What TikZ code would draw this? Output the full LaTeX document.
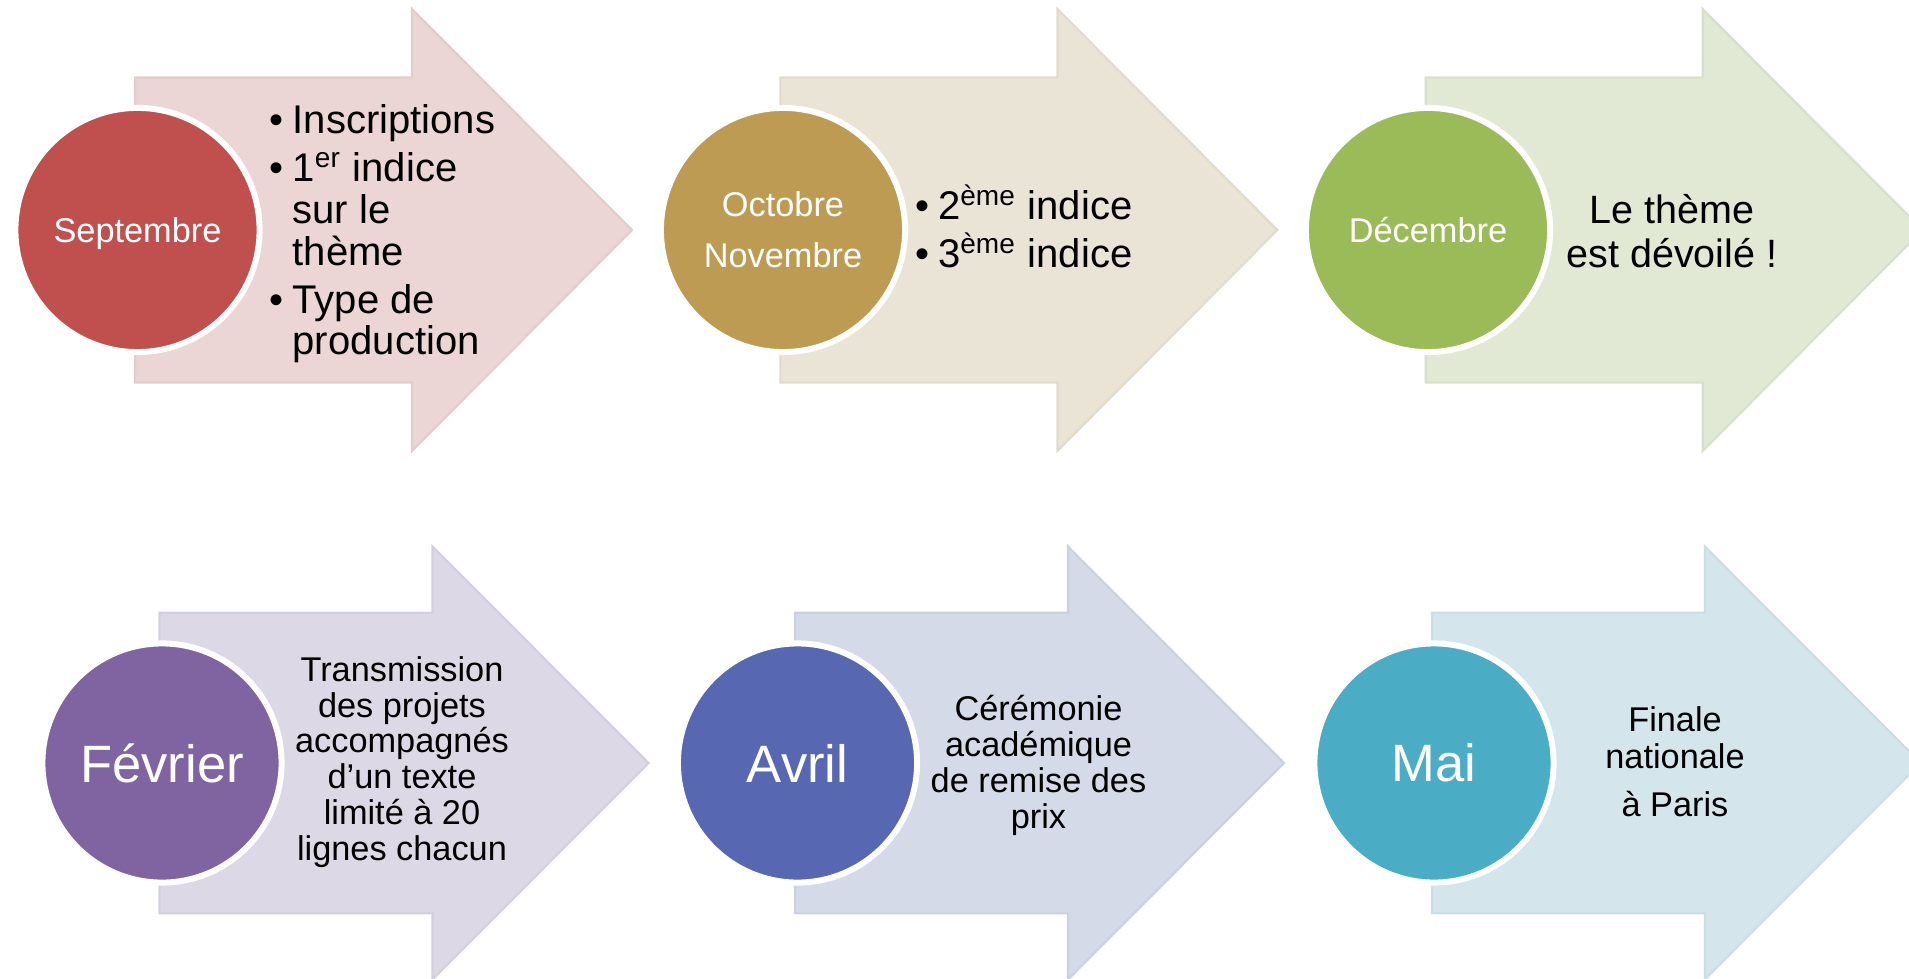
\documentclass[tikz,border=0pt]{standalone}
\usepackage{fontspec}
\setmainfont{Liberation Sans}
\definecolor{cRed}{HTML}{C0504D}
\definecolor{aRed}{HTML}{EBD5D5}
\definecolor{cGold}{HTML}{BE9B53}
\definecolor{aGold}{HTML}{E9E4D5}
\definecolor{cGreen}{HTML}{9BBB59}
\definecolor{aGreen}{HTML}{E1E9D5}
\definecolor{cPurple}{HTML}{8064A2}
\definecolor{aPurple}{HTML}{DCD8E5}
\definecolor{cBlue}{HTML}{5867B2}
\definecolor{aBlue}{HTML}{D5DAE8}
\definecolor{cTeal}{HTML}{4BACC6}
\definecolor{aTeal}{HTML}{D4E6EC}
% #1 left, #2 centre y, #3 shaft half height, #4 head half height, #5 head base offset, #6 tip offset, #7 colour
\newcommand\flowshape[7]{%
  \filldraw[fill=#7, draw=#7!96!black, line width=0.6pt, line join=miter]
    (#1,{#2-#3}) -- ({#1+#5},{#2-#3}) -- ({#1+#5},{#2-#4}) -- ({#1+#6},#2)
    -- ({#1+#5},{#2+#4}) -- ({#1+#5},{#2+#3}) -- (#1,{#2+#3}) -- cycle;}
\newcommand\bul{\makebox[6.54pt][l]{•}}
\newcommand\sups[1]{\textsuperscript{\smash{#1}}}
\begin{document}
\begin{tikzpicture}[x=0.01cm,y=-0.01cm,
  bigdot/.style={circle, draw=white, line width=1.7pt, inner sep=0pt, text=white, align=center},
  toprow/.style={bigdot, minimum size=2.44cm},
  botrow/.style={bigdot, minimum size=2.39cm},
  smalllab/.style={font=\fontsize{9.76}{14.5}\selectfont},
  biglab/.style={font=\fontsize{14.94}{16}\selectfont},
  listtext/.style={font=\fontsize{11.38}{11.8}\selectfont, inner sep=0pt, anchor=west},
  bodytext/.style={font=\fontsize{9.76}{10.2}\selectfont, inner sep=0pt, align=center}]
\useasboundingbox (0,0) rectangle (1909,979);
\clip (0,0) rectangle (1909,979);
% top row arrows
\flowshape{135}{230}{152.5}{221}{277}{497}{aRed}
\flowshape{780.4}{230}{152.5}{221}{277}{497}{aGold}
\flowshape{1425.7}{230}{152.5}{221}{277}{497}{aGreen}
% bottom row arrows
\flowshape{159.5}{763}{150.3}{216.5}{273}{489}{aPurple}
\flowshape{795}{763}{150.3}{216.5}{273}{489}{aBlue}
\flowshape{1431.8}{763}{150.3}{216.5}{273}{489}{aTeal}
% circles
\node[toprow, fill=cRed] (sep) at (137.5,230) {};
\node[smalllab, text=white, inner sep=0pt] (lsep) at (137.5,233.6) {Septembre};
\node[toprow, fill=cGold, smalllab] (oct) at (783,230) {Octobre\\Novembre};
\node[toprow, fill=cGreen, smalllab] (dec) at (1428,230) {Décembre};
\node[botrow, fill=cPurple, biglab] (fev) at (162,763) {Février};
\node[botrow, fill=cBlue, biglab] (avr) at (797.5,763) {Avril};
\node[botrow, fill=cTeal, biglab] (mai) at (1434,763) {Mai};
% texts
\node[listtext] (tsep) at (269,236) {\begin{tabular}{@{}l@{}l@{}}
\bul & Inscriptions\\[1.85pt]
\bul & 1\sups{er} indice\\
 & sur le\\
 & thème\\[1.85pt]
\bul & Type de\\
 & production
\end{tabular}};
\node[listtext] (toct) at (914.4,235) {\begin{tabular}{@{}l@{}l@{}}
\bul & 2\sups{ème} indice\\[2pt]
\bul & 3\sups{ème} indice
\end{tabular}};
\node[inner sep=0pt, align=center, font=\fontsize{11.24}{12.5}\selectfont] (tdec) at (1672,231) {Le thème\\est dévoilé !};
\node[bodytext] (tfev) at (402,762) {Transmission\\des projets\\accompagnés\\d’un texte\\limité à 20\\lignes chacun};
\node[bodytext, font=\fontsize{9.76}{10.27}\selectfont] (tavr) at (1038.5,765.6) {Cérémonie\\académique\\de remise des\\prix};
\node[bodytext, font=\fontsize{9.76}{10.4}\selectfont] (tmai) at (1675,762) {Finale\\nationale\\[3.46pt]à Paris};
\end{tikzpicture}
\end{document}
